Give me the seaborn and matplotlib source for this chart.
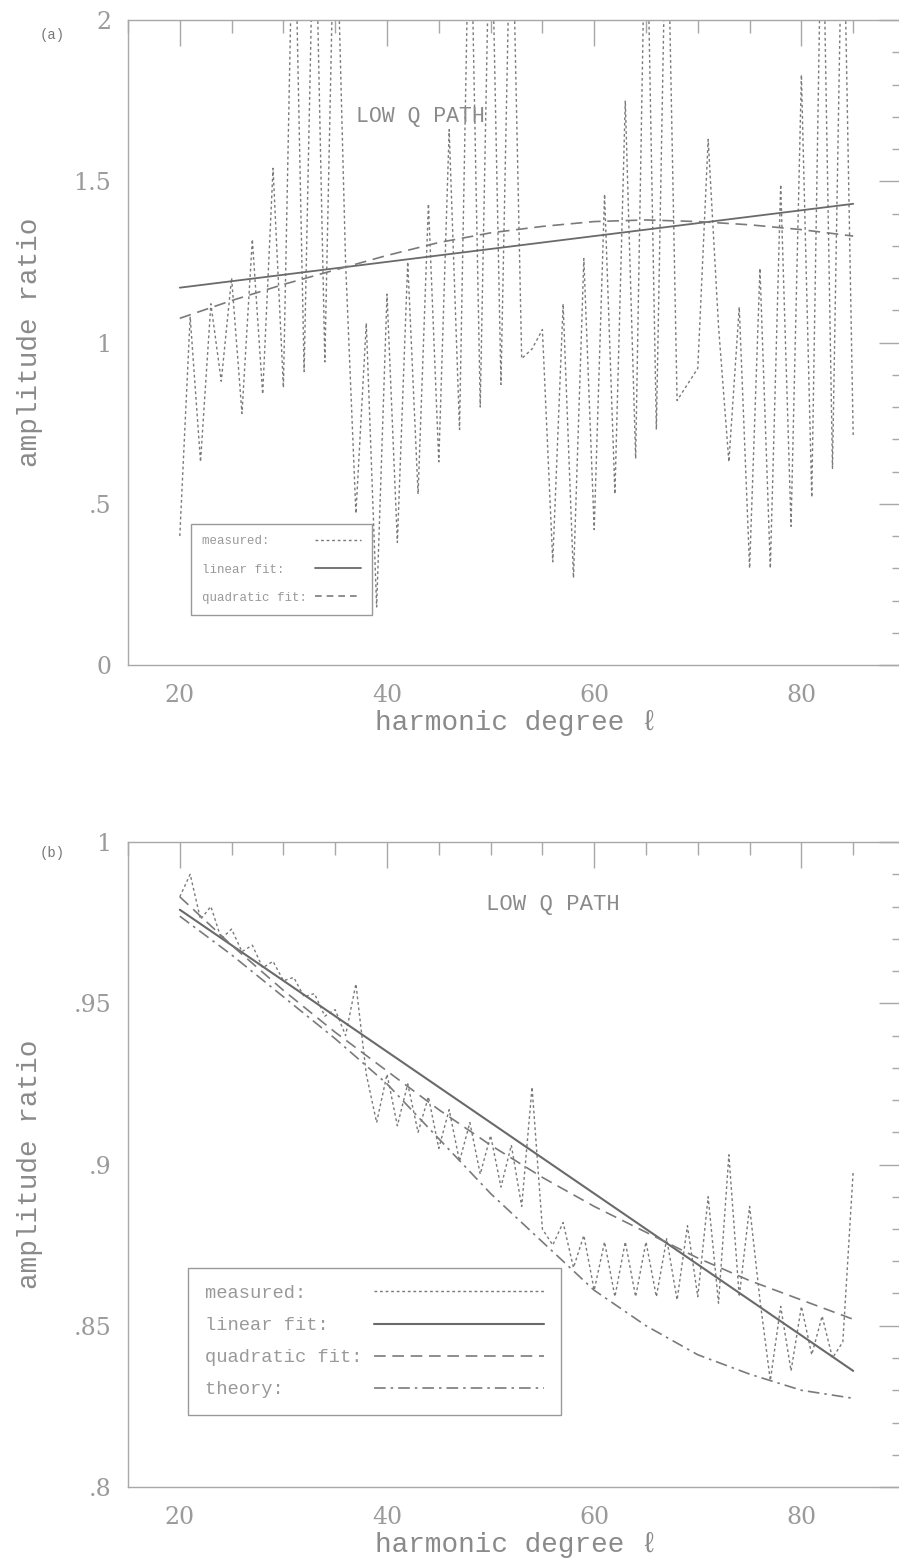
import numpy as np
import matplotlib
matplotlib.use("Agg")
import matplotlib.pyplot as plt
from matplotlib.lines import Line2D
from matplotlib.ticker import MultipleLocator, FixedLocator, FuncFormatter
import seaborn as sns

# ---------------- data ----------------
degree = list(range(20, 86))

# panel (a) measured amplitude ratio (values > 2 run off the top of the frame)
a_measured = [0.40, 1.08, 0.63, 1.12, 0.88, 1.20, 0.78, 1.32, 0.84, 1.54,
              0.86, 2.50, 0.91, 2.50, 0.94, 2.50, 1.25, 0.47, 1.06, 0.18,
              1.15, 0.38, 1.25, 0.53, 1.43, 0.63, 1.66, 0.73, 2.50, 0.80,
              2.50, 0.87, 2.50, 0.95, 0.98, 1.04, 0.32, 1.12, 0.27, 1.26,
              0.42, 1.46, 0.53, 1.75, 0.64, 2.50, 0.73, 2.50, 0.82, 0.87,
              0.92, 1.63, 1.05, 0.63, 1.11, 0.30, 1.23, 0.30, 1.49, 0.43,
              1.83, 0.52, 2.50, 0.61, 2.50, 0.71]
fit_deg_lin = [20, 85]
a_linear = [1.17, 1.43]
fit_deg = [20, 25, 30, 35, 40, 45, 50, 55, 60, 65, 70, 75, 80, 85]
a_quadratic = [1.075, 1.13, 1.18, 1.225, 1.27, 1.31, 1.34, 1.36, 1.375,
               1.38, 1.375, 1.365, 1.35, 1.33]

# panel (b)
b_measured = [0.983, 0.990, 0.976, 0.980, 0.970, 0.973, 0.966, 0.968, 0.961, 0.963,
              0.957, 0.958, 0.952, 0.953, 0.946, 0.948, 0.940, 0.956, 0.928, 0.913,
              0.928, 0.912, 0.925, 0.910, 0.921, 0.905, 0.917, 0.901, 0.913, 0.897,
              0.909, 0.893, 0.906, 0.887, 0.924, 0.880, 0.875, 0.882, 0.868, 0.878,
              0.861, 0.876, 0.859, 0.876, 0.859, 0.876, 0.859, 0.877, 0.858, 0.881,
              0.859, 0.890, 0.857, 0.903, 0.859, 0.887, 0.858, 0.833, 0.856, 0.836,
              0.856, 0.841, 0.853, 0.840, 0.845, 0.898]
b_linear = [0.979, 0.836]
b_quadratic = [0.983, 0.968, 0.954, 0.941, 0.929, 0.917, 0.906, 0.896, 0.887,
               0.879, 0.871, 0.864, 0.858, 0.852]
b_theory = [0.977, 0.965, 0.952, 0.939, 0.925, 0.908, 0.891, 0.876, 0.861,
            0.850, 0.841, 0.835, 0.830, 0.8275]

legend_a = ["measured:", "linear fit:", "quadratic fit:"]
legend_b = ["measured:", "linear fit:", "quadratic fit:", "theory:"]

# ---------------- style ----------------
sns.set_theme(style="white")
MONO = ["Liberation Mono", "DejaVu Sans Mono"]
plt.rcParams["font.family"] = MONO

LINE = "#7a7a7a"
SOLID = "#6a6a6a"
AXC = "#a8a8a8"
TXT = "#8a8a8a"

ls_meas = (0, (2.0, 2.0))
ls_quad = (0, (7, 4))
ls_theo = (0, (7, 3, 1.5, 3))

fig = plt.figure(figsize=(8.99, 15.6), dpi=100)
W, H = 899, 1560
ax1 = fig.add_axes([128 / W, 1 - 665 / H, 777 / W, 645 / H])
ax2 = fig.add_axes([128 / W, 1 - 1487 / H, 777 / W, 645 / H])


def fmt(v, pos):
    s = f"{v:g}"
    if s.startswith("0."):
        s = s[1:]
    return s


def style_axes(ax, ymin, ymax, ymajor, yminor):
    ax.set_xlim(15, 90)
    ax.set_ylim(ymin, ymax)
    ax.xaxis.set_major_locator(FixedLocator([20, 40, 60, 80]))
    ax.xaxis.set_minor_locator(MultipleLocator(5))
    ax.yaxis.set_major_locator(MultipleLocator(ymajor))
    ax.yaxis.set_minor_locator(MultipleLocator(yminor))
    ax.yaxis.set_major_formatter(FuncFormatter(fmt))
    ax.tick_params(which="both", direction="in", top=True, right=True,
                   color=AXC, width=1.0)
    ax.tick_params(which="major", length=19, labelsize=17, labelcolor="#9a9a9a",
                   labelfontfamily="DejaVu Serif")
    ax.tick_params(axis="x", which="major", pad=14)
    ax.tick_params(axis="y", which="major", pad=12)
    ax.tick_params(which="minor", length=9.5)
    for sp in ax.spines.values():
        sp.set_color(AXC)
        sp.set_linewidth(1.0)
    ax.set_xlabel("harmonic degree ℓ", fontsize=20, color=TXT, labelpad=2)
    ax.set_ylabel("amplitude ratio", fontsize=20, color=TXT, labelpad=22)
    ax.grid(False)


# ---- panel (a)
sns.lineplot(x=degree, y=a_measured, ax=ax1, color=LINE, lw=1.0,
             linestyle=ls_meas, estimator=None)
sns.lineplot(x=fit_deg_lin, y=a_linear, ax=ax1, color=SOLID, lw=1.3,
             estimator=None)
sns.lineplot(x=fit_deg, y=a_quadratic, ax=ax1, color=LINE, lw=1.2,
             linestyle=ls_quad, estimator=None)
style_axes(ax1, 0, 2, 0.5, 0.1)
ax1.text(43.2, 1.70, "LOW Q PATH", ha="center", va="center", fontsize=15.5,
         color=TXT)

w = max(len(s) for s in legend_a) + 1
h_a = [Line2D([], [], color=LINE, lw=1.0, linestyle=ls_meas),
       Line2D([], [], color=SOLID, lw=1.3),
       Line2D([], [], color=LINE, lw=1.2, linestyle=(0, (4, 3)))]
leg1 = ax1.legend(h_a, [s.ljust(w) for s in legend_a], loc="upper left",
                  bbox_to_anchor=(0.081, 0.2186), borderaxespad=0,
                  fontsize=9, markerfirst=False, handlelength=3.7,
                  handletextpad=0.0, labelspacing=1.3, borderpad=0.9,
                  frameon=True, fancybox=False, framealpha=1,
                  edgecolor="#999999", labelcolor="#999999")
leg1.get_frame().set_linewidth(1.0)

# ---- panel (b)
sns.lineplot(x=degree, y=b_measured, ax=ax2, color=LINE, lw=1.0,
             linestyle=ls_meas, estimator=None)
sns.lineplot(x=fit_deg_lin, y=b_linear, ax=ax2, color=SOLID, lw=1.5,
             estimator=None)
sns.lineplot(x=fit_deg, y=b_quadratic, ax=ax2, color=LINE, lw=1.2,
             linestyle=ls_quad, estimator=None)
sns.lineplot(x=fit_deg, y=b_theory, ax=ax2, color=LINE, lw=1.2,
             linestyle=ls_theo, estimator=None)
style_axes(ax2, 0.8, 1.0, 0.05, 0.01)
ax2.text(56.0, 0.9805, "LOW Q PATH", ha="center", va="center", fontsize=16,
         color=TXT)

w = max(len(s) for s in legend_b) + 1
h_b = [Line2D([], [], color=LINE, lw=1.0, linestyle=ls_meas),
       Line2D([], [], color=SOLID, lw=1.5),
       Line2D([], [], color=LINE, lw=1.2, linestyle=ls_quad),
       Line2D([], [], color=LINE, lw=1.2, linestyle=ls_theo)]
leg2 = ax2.legend(h_b, [s.ljust(w) for s in legend_b], loc="upper left",
                  bbox_to_anchor=(0.0772, 0.3395), borderaxespad=0,
                  fontsize=13.5, markerfirst=False, handlelength=9.1,
                  handletextpad=0.0, labelspacing=0.8, borderpad=0.9,
                  frameon=True, fancybox=False, framealpha=1,
                  edgecolor="#999999", labelcolor="#999999")
leg2.get_frame().set_linewidth(1.0)

fig.text(40 / W, 1 - 35 / H, "(a)", fontsize=10, color="#777777",
         ha="left", va="center")
fig.text(40 / W, 1 - 853 / H, "(b)", fontsize=10, color="#777777",
         ha="left", va="center")

fig.savefig("out.png", dpi=100, facecolor="white")
